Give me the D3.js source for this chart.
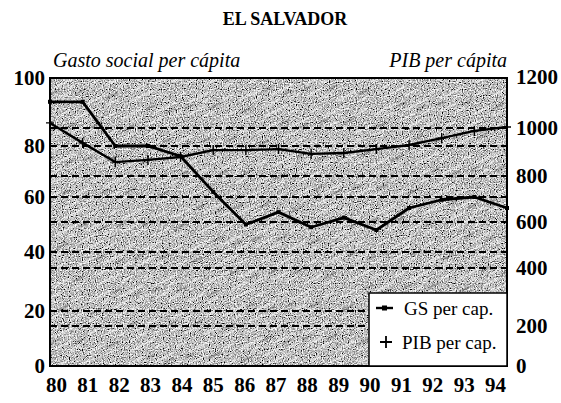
<!DOCTYPE html>
<html>
<head>
<meta charset="utf-8">
<script src="https://cdn.jsdelivr.net/npm/d3@7"></script>
<style>
  body { margin: 0; background: #fff; }
  svg { display: block; font-family: 'Liberation Serif', 'Times New Roman', serif; }
</style>
</head>
<body>
<svg id="chart" width="561" height="403"></svg>
<script>
const years = ['80', '81', '82', '83', '84', '85', '86', '87', '88', '89', '90', '91', '92', '93', '94'];
const gsPerCap = [93, 93, 80, 80, 76, 62, 50, 54.5, 49, 52.5, 48, 56, 59, 60, 56];
const pibPerCap = [1020, 938, 858, 867, 879, 908, 908, 912, 892, 896, 912, 929, 958, 988, 1004];
const leftTicks = [0, 20, 40, 60, 80, 100];
const rightTicks = [0, 200, 400, 600, 800, 1000, 1200];
const leftGrid = [20, 40, 60, 80];
const rightGrid = [200, 400, 600, 800, 1000];

const plot = { left: 50, right: 507, top: 78, bottom: 366 };

const svg = d3.select('#chart');

const x = d3.scalePoint().domain(years).range([plot.left, plot.right]);
const xLabel = x.copy().range([56, 495]);

// the printed axes are not evenly spaced (scanned page), so calibrate to the ticks
const yLeft = d3.scaleLinear().domain(leftTicks).range([366, 311, 252, 197, 146, 78]);
const yRight = d3.scaleLinear().domain(rightTicks).range([366, 326, 268, 222, 176, 128, 77]);

// background texture: grainy grey with light diagonal streaks
const defs = svg.append('defs');
const grain = defs.append('filter')
  .attr('id', 'grain')
  .attr('x', 0).attr('y', 0).attr('width', 1).attr('height', 1);
grain.append('feTurbulence')
  .attr('type', 'fractalNoise')
  .attr('baseFrequency', 0.85)
  .attr('numOctaves', 1)
  .attr('seed', 4);
grain.append('feColorMatrix')
  .attr('type', 'matrix')
  .attr('values', '2.4 0 0 0 -0.68  2.4 0 0 0 -0.68  2.4 0 0 0 -0.68  0 0 0 0 1');

const streaks = defs.append('pattern')
  .attr('id', 'streaks')
  .attr('patternUnits', 'userSpaceOnUse')
  .attr('width', 113)
  .attr('height', 37)
  .attr('patternTransform', 'rotate(-27)');
streaks.append('path')
  .attr('d', 'M3,3H21M40,5H52M70,2H96M14,11H27M55,13H80M92,10H104M0,19H11M30,21H49M66,20H74M85,23H110M8,29H34M47,31H58M75,30H92M20,35H28M98,34H112')
  .attr('stroke', '#fff')
  .attr('stroke-width', 1.6)
  .attr('stroke-opacity', 0.65);
streaks.append('path')
  .attr('d', 'M24,7H36M80,16H90M50,25H63M2,33H12M96,28H106')
  .attr('stroke', '#000')
  .attr('stroke-width', 1.2)
  .attr('stroke-opacity', 0.45);

svg.append('rect')
  .attr('x', plot.left).attr('y', plot.top)
  .attr('width', plot.right - plot.left).attr('height', plot.bottom - plot.top)
  .attr('fill', '#999')
  .attr('filter', 'url(#grain)');
svg.append('rect')
  .attr('x', plot.left).attr('y', plot.top)
  .attr('width', plot.right - plot.left).attr('height', plot.bottom - plot.top)
  .attr('fill', 'url(#streaks)');

// dashed grid lines, one set for each axis
const grid = svg.append('g')
  .attr('stroke', '#000')
  .attr('stroke-width', 1.8)
  .attr('stroke-dasharray', '7,4');
grid.selectAll('line.gl')
  .data(leftGrid)
  .enter().append('line')
  .attr('class', 'gl')
  .attr('x1', plot.left).attr('x2', plot.right)
  .attr('y1', d => yLeft(d)).attr('y2', d => yLeft(d));
grid.selectAll('line.gr')
  .data(rightGrid)
  .enter().append('line')
  .attr('class', 'gr')
  .attr('x1', plot.left).attr('x2', plot.right)
  .attr('y1', d => yRight(d)).attr('y2', d => yRight(d));

// series
const gsLine = d3.line()
  .x((d, i) => x(years[i]))
  .y(d => yLeft(d));
const pibLine = d3.line()
  .x((d, i) => x(years[i]))
  .y(d => yRight(d));

svg.append('path')
  .datum(pibPerCap)
  .attr('d', pibLine)
  .attr('fill', 'none')
  .attr('stroke', '#000')
  .attr('stroke-width', 2.4)
  .attr('stroke-linejoin', 'round');

svg.append('path')
  .datum(gsPerCap)
  .attr('d', gsLine)
  .attr('fill', 'none')
  .attr('stroke', '#000')
  .attr('stroke-width', 2.8)
  .attr('stroke-linejoin', 'round');

svg.selectAll('rect.gs')
  .data(gsPerCap)
  .enter().append('rect')
  .attr('class', 'gs')
  .attr('x', (d, i) => x(years[i]) - 2)
  .attr('y', d => yLeft(d) - 2)
  .attr('width', 4)
  .attr('height', 4)
  .attr('fill', '#000');

svg.selectAll('path.pib')
  .data(pibPerCap)
  .enter().append('path')
  .attr('class', 'pib')
  .attr('transform', (d, i) => `translate(${x(years[i])},${yRight(d)})`)
  .attr('d', 'M-4,0H4M0,-5V5')
  .attr('stroke', '#000')
  .attr('stroke-width', 1.4);

// frame
svg.append('rect')
  .attr('x', plot.left).attr('y', plot.top)
  .attr('width', plot.right - plot.left).attr('height', plot.bottom - plot.top)
  .attr('fill', 'none')
  .attr('stroke', '#000')
  .attr('stroke-width', 2);

// axes
const styleAxis = g => {
  g.attr('font-family', null);
  g.select('.domain').remove();
  g.selectAll('text')
    .attr('font-family', "'Liberation Serif', 'Times New Roman', serif")
    .attr('font-size', 21)
    .attr('font-weight', 'bold')
    .attr('fill', '#000');
};

svg.append('g')
  .attr('transform', `translate(${plot.left},0)`)
  .call(d3.axisLeft(yLeft).tickValues(leftTicks).tickFormat(d3.format('d')).tickSize(0).tickPadding(5))
  .call(styleAxis);

svg.append('g')
  .attr('transform', `translate(${plot.right},0)`)
  .call(d3.axisRight(yRight).tickValues(rightTicks).tickFormat(d3.format('d')).tickSize(0).tickPadding(9))
  .call(styleAxis);

svg.append('g')
  .attr('transform', `translate(0,${plot.bottom})`)
  .call(d3.axisBottom(xLabel).tickSize(0).tickPadding(11))
  .call(styleAxis);

// titles
svg.append('text')
  .attr('x', 285).attr('y', 25)
  .attr('text-anchor', 'middle')
  .attr('font-size', 18)
  .attr('font-weight', 'bold')
  .text('EL SALVADOR');

svg.append('text')
  .attr('x', 53).attr('y', 67)
  .attr('font-size', 20)
  .attr('font-style', 'italic')
  .text('Gasto social per cápita');

svg.append('text')
  .attr('x', 507).attr('y', 67)
  .attr('text-anchor', 'end')
  .attr('font-size', 20)
  .attr('font-style', 'italic')
  .text('PIB per cápita');

// legend
const legend = svg.append('g');
legend.append('rect')
  .attr('x', 369).attr('y', 293)
  .attr('width', plot.right - 369).attr('height', plot.bottom - 293)
  .attr('fill', '#fff')
  .attr('stroke', '#000')
  .attr('stroke-width', 1.5);

legend.append('line')
  .attr('x1', 376).attr('x2', 393)
  .attr('y1', 308).attr('y2', 308)
  .attr('stroke', '#000')
  .attr('stroke-width', 2.4);
legend.append('rect')
  .attr('x', 382).attr('y', 305.5)
  .attr('width', 5).attr('height', 5)
  .attr('fill', '#000');
legend.append('text')
  .attr('x', 404).attr('y', 315)
  .attr('font-size', 19)
  .text('GS per cap.');

legend.append('path')
  .attr('transform', 'translate(386,342)')
  .attr('d', 'M-6,0H6M0,-6V6')
  .attr('stroke', '#000')
  .attr('stroke-width', 1.8);
legend.append('text')
  .attr('x', 402).attr('y', 349)
  .attr('font-size', 19)
  .text('PIB per cap.');
</script>
</body>
</html>
